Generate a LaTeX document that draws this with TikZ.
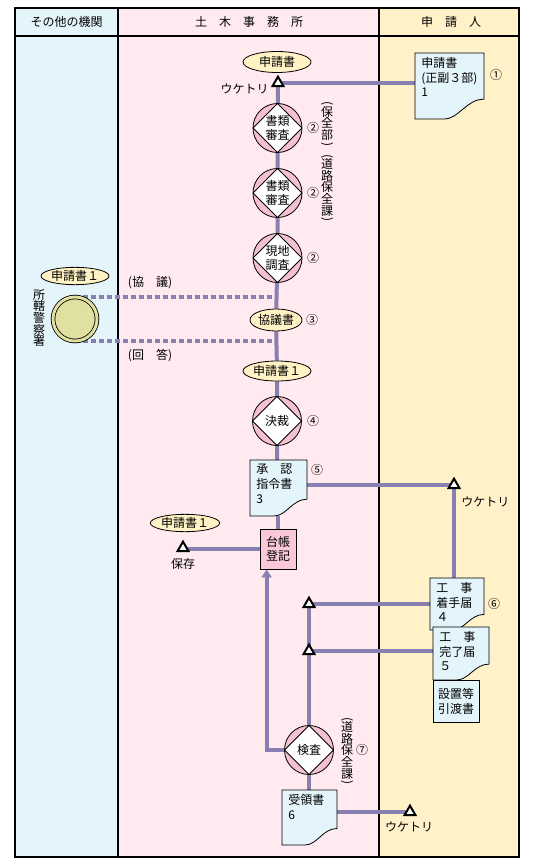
\documentclass[tikz,border=0pt]{standalone}
\usepackage{fontspec}
\setmainfont{Noto Sans CJK JP}
\usepackage{graphicx}
\usepackage{tikz}
\usetikzlibrary{calc,shapes.geometric,arrows.meta}
\pgfdeclarelayer{back}
\pgfdeclarelayer{wire}
\pgfsetlayers{back,wire,main}

\definecolor{colblue}{RGB}{228,244,251}
\definecolor{colpink}{RGB}{255,234,240}
\definecolor{colyellow}{RGB}{255,241,200}
\definecolor{ellfill}{RGB}{255,242,196}
\definecolor{chkpink}{RGB}{245,192,208}
\definecolor{docfill}{RGB}{228,244,251}
\definecolor{ledgerpink}{RGB}{250,200,216}
\definecolor{olive}{RGB}{224,224,160}
\definecolor{wirecol}{RGB}{136,128,178}

\tikzset{
  frame/.style={line width=0.8pt},
  ell/.style={ellipse, draw, fill=ellfill, inner sep=0pt, line width=0.6pt},
  chk/.style={circle, draw, fill=chkpink, minimum size=36.75pt, inner sep=0pt, align=center, line width=0.6pt,
    font=\fontsize{9}{10}\selectfont,
    path picture={\draw[fill=white, line width=0.6pt] (path picture bounding box.north) -- (path picture bounding box.east) -- (path picture bounding box.south) -- (path picture bounding box.west) -- cycle;}},
  tri/.style={regular polygon, regular polygon sides=3, draw, fill=white, line width=1.5pt, minimum size=9.5pt, inner sep=0pt},
  papertext/.style={anchor=north west, align=left, inner xsep=4.5pt, inner ysep=3pt, font=\fontsize{9}{11}\selectfont},
  num/.style={inner sep=0pt, font=\fontsize{9}{10}\selectfont},
  lbl/.style={inner sep=0pt},
  vtext/.style={align=center, inner sep=0pt, font=\fontsize{9}{8.8}\selectfont},
  wire/.style={draw=wirecol, line width=3pt},
  dashwire/.style={wire, dash pattern=on 3.75pt off 2.25pt},
}

% vertical brackets
\newcommand{\vopen}{\rotatebox[origin=c]{-90}{(}}
\newcommand{\vclose}{\rotatebox[origin=c]{-90}{)}}

% paper sheet with a curled corner: name, x1, y1, x2, y2, text
\newcommand{\paper}[6]{%
  \draw[line width=0.6pt, fill=docfill] (#2,#3) -- (#4,#3) -- (#4,{#3+0.7*(#5-#3)}) .. controls ({#2+0.74*(#4-#2)},{#3+0.7*(#5-#3)}) and ({#2+0.64*(#4-#2)},#5) .. ({#2+0.42*(#4-#2)},#5) -- (#2,#5) -- cycle;
  \path (#2,#3) coordinate (#1-nw) (#4,#5) coordinate (#1-se);
  \node[papertext] (#1) at (#2,#3) {#6};
}

\begin{document}
\begin{tikzpicture}[x=0.75pt,y=0.75pt,yscale=-1,xscale=1,font=\fontsize{9}{11}\selectfont]
\useasboundingbox (0,0) rectangle (535,863);

\begin{pgfonlayer}{back}
%Columns
\fill[colblue] (15,8) rectangle (118,857);
\fill[colpink] (118,8) rectangle (379,857);
\fill[colyellow] (379,8) rectangle (519,857);
\draw[frame] (15,8) rectangle (519,857);
\draw[frame] (15,36) -- (519,36);
\draw[frame] (118,8) -- (118,857);
\draw[frame] (379,8) -- (379,857);
\end{pgfonlayer}

% Header
\node[lbl] (hother) at (66.5,22) {その他の機関};
\node[lbl] (hoffice) at (249,22) {土　木　事　務　所};
\node[lbl] (happ) at (451,22) {申　請　人};

% Application
\node[ell, minimum width=51pt, minimum height=15.75pt] (app0) at (277,62) {申請書};
\node[tri] (rcv1) at (278,83) {};
\node[lbl, anchor=east] (rcv1t) at (269,89) {ウケトリ};
\paper{app}{415}{53}{484}{119}{申請書\\(正副３部)\\1}
\node[num] (n1) at (496,75) {①};

% Checks
\node[chk] (doc1) at (277.5,128) {書類\\審査};
\node[num] (n2a) at (313,128) {②};
\node[vtext] (sec1) at (327,125) {\vopen\\[-2.5pt]保\\全\\部\\[-2.5pt]\vclose};
\node[chk] (doc2) at (277.5,193) {書類\\審査};
\node[num] (n2b) at (313,193) {②};
\node[vtext] (sec2) at (327,189) {\vopen\\[-2.5pt]道\\路\\保\\全\\課\\[-2.5pt]\vclose};
\node[chk] (site) at (277.5,258) {現地\\調査};
\node[num] (n2c) at (313,258) {②};

% Police
\node[ell, minimum width=51pt, minimum height=13pt] (app1) at (75,276) {申請書１};
\node[circle, draw, fill=olive, double=olive, double distance=2.2pt, line width=0.6pt, minimum size=33pt, inner sep=0pt] (police) at (75,319) {};
\node[vtext] (policet) at (39,318) {所\\轄\\警\\察\\署};
\node[lbl] (ask) at (150,283) {(協　議)};
\node[lbl] (ans) at (150,356) {(回　答)};

\node[ell, minimum width=39pt, minimum height=16.5pt] (talk) at (276,320) {協議書};
\node[num] (n3) at (312,320) {③};
\node[ell, minimum width=51pt, minimum height=15pt] (app2) at (277,371) {申請書１};

% Decision
\node[chk] (dec) at (277,421) {決裁};
\node[num] (n4) at (313,421) {④};
\paper{shonin}{250}{460}{307}{516}{承　認\\指令書\\3}
\node[num] (n5) at (317,470) {⑤};
\node[tri] (rcv3) at (454,485) {};
\node[lbl, anchor=west] (rcv3t) at (461,502) {ウケトリ};

% Ledger
\node[draw, fill=ledgerpink, line width=0.6pt, minimum width=27pt, minimum height=30pt, inner sep=0pt, align=center] (ledger) at (278,549) {台帳\\登記};
\node[ell, minimum width=52pt, minimum height=13pt] (app3) at (185,523) {申請書１};
\node[tri] (keep) at (183,548) {};
\node[lbl] (keept) at (183,564) {保存};

% Works
\paper{start}{430}{578}{484}{630}{工　事\\着手届\\４}
\node[num] (n6) at (494,604) {⑥};
\paper{done}{433}{627}{489}{680}{工　事\\完了届\\５}
\node[draw, fill=docfill, line width=0.6pt, minimum width=34.5pt, minimum height=32pt, inner sep=0pt, align=left] (handover) at (456,701.5) {設置等\\引渡書};
\node[tri] (lay4) at (309,604) {};
\node[tri] (lay5) at (309,651) {};

% Inspection
\node[chk] (insp) at (309,750) {検査};
\node[num] (n7) at (362,750) {⑦};
\node[vtext] (sec3) at (347,752) {\vopen\\[-2.5pt]道\\路\\保\\全\\課\\[-2.5pt]\vclose};
\paper{recv}{282}{790}{337}{845}{受領書\\6}
\node[tri] (rcv6) at (410,812) {};
\node[lbl] (rcv6t) at (409,827) {ウケトリ};

\begin{pgfonlayer}{wire}
\draw[wire] (rcv1.center) -- (doc1) -- (doc2) -- (site) -- (talk) -- (app2) -- (dec) -- (dec |- shonin.north);
\draw[wire] (rcv1.center) -- (rcv1.center -| app.west);
\draw[dashwire] (police.north) -- (police.north -| site);
\draw[dashwire] (police.south) -- (police.south -| site);
\draw[wire] (rcv3.center -| shonin-se) -- (rcv3.center);
\draw[wire] (rcv3.center) -- (rcv3.center |- start.north);
\draw[wire] (ledger.north) -- (ledger.north |- shonin-se);
\draw[wire] (ledger.west) -- (ledger.west -| keep.center);
\draw[wire, -{Triangle[length=6pt,width=7.5pt]}] (insp.west) -| ($(ledger.south west)+(7,0)$);
\draw[wire] (insp) -- (lay5.center) -- (lay4.center);
\draw[wire] (lay4.center) -- (lay4.center -| start.west);
\draw[wire] (lay5.center) -- (lay5.center -| done.west);
\draw[wire] (insp) -- (insp |- recv.north);
\draw[wire] (rcv6.center -| recv-se) -- (rcv6.center);
\end{pgfonlayer}

\end{tikzpicture}
\end{document}
